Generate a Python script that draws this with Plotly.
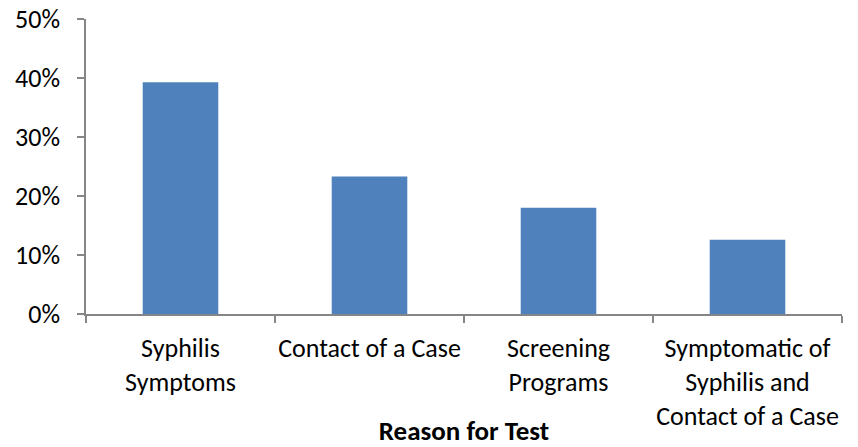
import plotly.graph_objects as go

categories = ["Syphilis<br>Symptoms", "Contact of a Case", "Screening<br>Programs",
              "Symptomatic of<br>Syphilis and<br>Contact of a Case"]
values = [0.393, 0.233, 0.180, 0.126]
y_ticks = [0, 0.1, 0.2, 0.3, 0.4, 0.5]
y_tick_labels = ["0%", "10%", "20%", "30%", "40%", "50%"]
x_title = "Reason for Test"

font_family = "Carlito, Liberation Sans, Arial, sans-serif"

fig = go.Figure(go.Bar(x=categories, y=values, marker=dict(color="#4F81BD", line=dict(width=0)),
                       width=0.4))

fig.update_layout(
    width=858, height=447,
    margin=dict(l=86, r=16, t=19, b=133),
    paper_bgcolor="white", plot_bgcolor="white",
    font=dict(family=font_family, size=26, color="black"),
    showlegend=False,
    bargap=0.6,
)
fig.update_xaxes(
    type="category", showline=True, linecolor="#868686", linewidth=1.5,
    ticks="outside", tickson="boundaries", ticklen=7, tickcolor="#868686", tickwidth=1.5,
    showgrid=False, tickangle=0, automargin=False, ticklabelstandoff=10,
    ticklabeloverflow="allow",
    title=dict(text="<b>" + x_title + "</b>", font=dict(size=27), standoff=17),
)
fig.update_yaxes(
    range=[0, 0.5], tickvals=y_ticks, ticktext=y_tick_labels,
    showline=True, linecolor="#868686", linewidth=1.5,
    ticks="outside", ticklen=7, tickcolor="#868686", tickwidth=1.5,
    showgrid=False, zeroline=False, ticklabelstandoff=12, automargin=False,
    ticklabeloverflow="allow",
)
fig.write_html("out.html", config={"displayModeBar": False},
               post_script="document.body.style.margin='0';")
